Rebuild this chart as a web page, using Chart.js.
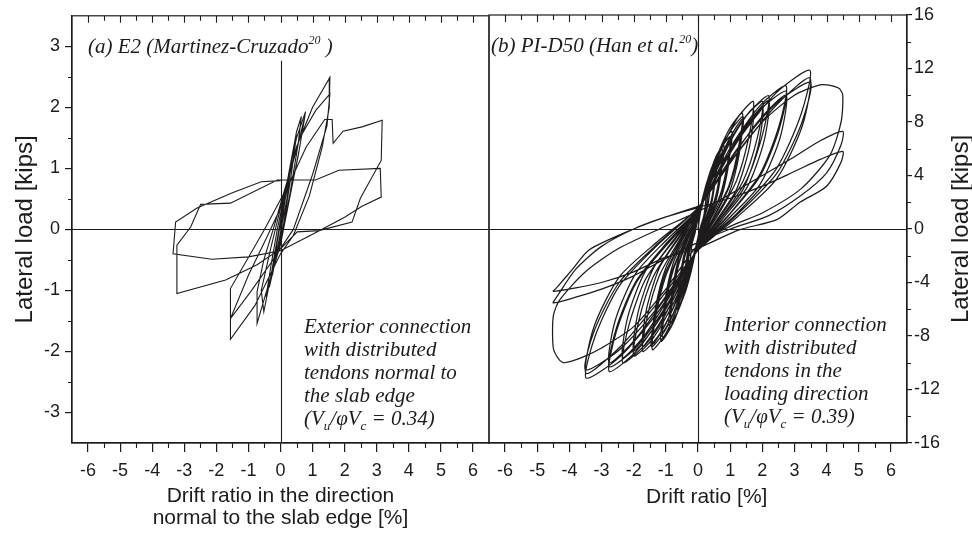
<!DOCTYPE html>
<html>
<head>
<meta charset="utf-8">
<script src="https://cdn.jsdelivr.net/npm/chart.js@4.4.1/dist/chart.umd.min.js"></script>
<style>
  html, body { margin: 0; padding: 0; background: #fff; }
  #wrap { position: relative; width: 972px; height: 533px; overflow: hidden; }
  #left { position: absolute; left: 0; top: 0; }
  #right { position: absolute; left: 480px; top: 0; }
</style>
</head>
<body>
<div id="wrap">
  <canvas id="left" width="500" height="533"></canvas>
  <canvas id="right" width="492" height="533"></canvas>
</div>
<script>
// tick values
const driftTicks = [-6, -5, -4, -3, -2, -1, 0, 1, 2, 3, 4, 5, 6];
const driftMinor = [-5.5, -4.5, -3.5, -2.5, -1.5, -0.5, 0.5, 1.5, 2.5, 3.5, 4.5, 5.5];
const kipsTicksE2 = [-3, -2, -1, 0, 1, 2, 3];
const kipsMinorE2 = [-2.5, -1.5, -0.5, 0.5, 1.5, 2.5];
const kipsTicksPI = [-16, -12, -8, -4, 0, 4, 8, 12, 16];
const kipsMinorPI = [-14, -10, -6, -2, 2, 6, 10, 14];

// (a) E2 - drift [%], load [kips]
const e2Loop = [
  [0,0],[0.15,0.5],[0.3,0.95],[0.2,0.5],[0,-0.05],[-0.15,-0.45],[-0.25,-0.75],[-0.15,-0.35],[0,0.1],
  [0.2,0.75],[0.4,1.3],[0.5,1.55],[0.35,0.95],[0.1,0.1],[-0.15,-0.5],[-0.35,-0.95],[-0.2,-0.45],[0,0.15],
  [0.25,0.9],[0.5,1.6],[0.65,1.85],[0.55,1.4],[0.3,0.6],[0,-0.2],[-0.25,-0.7],[-0.45,-1.1],[-0.3,-0.6],[-0.1,0.0],
  [0.2,0.75],[0.5,1.5],[0.78,1.93],[0.6,1.35],[0.3,0.55],[0,-0.25],[-0.4,-0.95],[-0.73,-1.54],[-0.73,-1.02],[-0.52,-0.5],[-0.2,0.05],[0.1,0.6],
  [0.5,1.3],[0.76,1.85],[0.55,1.2],[0.2,0.3],[-0.2,-0.5],[-0.52,-1.35],[-0.6,-1.0],[-0.3,-0.3],[0,0.35],
  [0.5,1.35],[1.0,2.0],[1.54,2.49],[1.52,2.0],[1.3,1.35],[0.9,0.55],[0.4,-0.1],[0,-0.4],[-0.8,-1.25],[-1.56,-1.8],[-1.56,-1.46],[-1.0,-0.75],[-0.4,-0.1],[0,0.35],
  [0.6,1.5],[1.1,1.95],[1.54,2.22],[1.45,1.7],[1.0,0.9],[0.4,0.0],[-0.3,-0.55],[-0.9,-1.0],[-1.56,-1.46],[-1.56,-0.97],
  [-0.5,0.0],[0.3,0.78],[0.8,1.35],[1.38,1.8],[1.61,1.8],[1.64,1.41],[1.95,1.61],[2.54,1.68],[3.17,1.79],[3.14,1.13],[2.49,0.51],[2.23,0.12],[1.2,-0.02],[0.52,-0.04],[0,-0.32],[-0.73,-0.58],[-1.71,-0.83],[-3.23,-1.05],[-3.23,-0.26],[-2.8,0.04],[-2.49,0.41],[-1.56,0.43],[-0.1,0.81],
  [1.09,0.81],[1.82,0.97],[3.11,1.0],[3.14,0.53],[2.54,0.38],[2.0,0.2],[1.0,-0.08],[0,-0.35],[-1.0,-0.45],[-2.14,-0.49],[-3.35,-0.4],[-3.27,0.12],[-2.6,0.35],[-1.5,0.6],[-0.6,0.78],[0,0.8]
];

// (b) PI-D50 - drift [%], load [kips], cycles in order
const pid50Loop = [
  [0,0],[0.09,1.43],[0.18,2.24],[0.25,2.6],[0.23,1.87],[0.18,0.99],[0.09,0.26],
  [0,-0.6],[-0.09,-1.54],[-0.18,-2.41],[-0.25,-2.8],[-0.23,-2.02],[-0.18,-1.06],[-0.09,-0.28],
  [0,0.8],[0.11,1.5],[0.21,2.46],[0.3,3.0],[0.28,2.04],[0.21,0.99],[0.11,0.24],
  [0,-0.8],[-0.11,-1.7],[-0.22,-2.79],[-0.32,-3.4],[-0.3,-2.31],[-0.22,-1.12],[-0.11,-0.27],
  [0,0.7],[0.14,2.15],[0.28,3.35],[0.4,3.9],[0.37,2.81],[0.28,1.48],[0.14,0.39],
  [0,-0.7],[-0.14,-2.37],[-0.28,-3.7],[-0.4,-4.3],[-0.37,-3.1],[-0.28,-1.63],[-0.14,-0.43],
  [0,0.8],[0.14,2.26],[0.28,3.53],[0.4,4.1],[0.37,2.95],[0.28,1.56],[0.14,0.41],
  [0,-0.8],[-0.16,-2.48],[-0.32,-3.87],[-0.45,-4.5],[-0.41,-3.24],[-0.32,-1.71],[-0.16,-0.45],
  [0,0.9],[0.19,2.75],[0.39,4.3],[0.55,5.0],[0.51,3.6],[0.39,1.9],[0.19,0.5],
  [0,-0.9],[-0.21,-3.14],[-0.42,-4.9],[-0.6,-5.7],[-0.55,-4.1],[-0.42,-2.17],[-0.21,-0.57],
  [0,1.0],[0.19,2.35],[0.39,3.85],[0.55,4.7],[0.51,3.2],[0.39,1.55],[0.19,0.38],
  [0,-1.0],[-0.21,-2.7],[-0.42,-4.43],[-0.6,-5.4],[-0.56,-3.67],[-0.42,-1.78],[-0.21,-0.43],
  [0,0.9],[0.21,2.92],[0.42,4.56],[0.6,5.3],[0.55,3.82],[0.42,2.01],[0.21,0.53],
  [0,-0.9],[-0.23,-3.3],[-0.46,-5.16],[-0.65,-6.0],[-0.6,-4.32],[-0.46,-2.28],[-0.23,-0.6],
  [0,1.0],[0.26,3.3],[0.53,5.16],[0.75,6.0],[0.69,4.32],[0.53,2.28],[0.26,0.6],
  [0,-1.0],[-0.3,-3.85],[-0.6,-6.02],[-0.85,-7.0],[-0.78,-5.04],[-0.6,-2.66],[-0.3,-0.7],
  [0,1.1],[0.26,2.85],[0.53,4.67],[0.75,5.7],[0.7,3.88],[0.53,1.88],[0.26,0.46],
  [0,-1.1],[-0.3,-3.3],[-0.6,-5.41],[-0.85,-6.6],[-0.79,-4.49],[-0.6,-2.18],[-0.3,-0.53],
  [0,1.0],[0.28,3.47],[0.56,5.42],[0.8,6.3],[0.74,4.54],[0.56,2.39],[0.28,0.63],
  [0,-1.0],[-0.32,-3.96],[-0.63,-6.19],[-0.9,-7.2],[-0.83,-5.18],[-0.63,-2.74],[-0.32,-0.72],
  [0,1.1],[0.35,3.8],[0.7,5.93],[1.0,6.9],[0.92,4.97],[0.7,2.62],[0.35,0.69],
  [0,-1.1],[-0.39,-4.46],[-0.77,-6.97],[-1.1,-8.1],[-1.01,-5.83],[-0.77,-3.08],[-0.39,-0.81],
  [0,1.2],[0.35,3.3],[0.7,5.41],[1.0,6.6],[0.93,4.49],[0.7,2.18],[0.35,0.53],
  [0,-1.2],[-0.39,-3.85],[-0.77,-6.31],[-1.1,-7.7],[-1.02,-5.24],[-0.77,-2.54],[-0.39,-0.62],
  [0,1.1],[0.37,4.02],[0.74,6.28],[1.05,7.3],[0.97,5.26],[0.74,2.77],[0.37,0.73],
  [0,-1.1],[-0.4,-4.62],[-0.81,-7.22],[-1.15,-8.4],[-1.06,-6.05],[-0.81,-3.19],[-0.4,-0.84],
  [0,1.2],[0.48,4.77],[0.97,7.46],[1.38,8.67],[1.27,6.24],[0.97,3.29],[0.48,0.87],
  [0,-1.2],[-0.5,-4.96],[-0.99,-7.76],[-1.42,-9.02],[-1.31,-6.49],[-0.99,-3.43],[-0.5,-0.9],
  [0,1.3],[0.48,4.1],[0.97,6.72],[1.38,8.2],[1.28,5.58],[0.97,2.71],[0.48,0.66],
  [0,-1.3],[-0.5,-4.3],[-0.99,-7.05],[-1.42,-8.6],[-1.32,-5.85],[-0.99,-2.84],[-0.5,-0.69],
  [0,1.2],[0.49,4.62],[0.98,7.22],[1.4,8.4],[1.29,6.05],[0.98,3.19],[0.49,0.84],
  [0,-1.2],[-0.51,-4.84],[-1.02,-7.57],[-1.45,-8.8],[-1.33,-6.34],[-1.02,-3.34],[-0.51,-0.88],
  [0,1.3],[0.6,5.25],[1.2,8.2],[1.72,9.54],[1.58,6.87],[1.2,3.63],[0.6,0.95],
  [0,-1.3],[-0.6,-5.03],[-1.2,-7.87],[-1.72,-9.15],[-1.58,-6.59],[-1.2,-3.48],[-0.6,-0.92],
  [0,1.4],[0.6,4.5],[1.2,7.38],[1.72,9.0],[1.6,6.12],[1.2,2.97],[0.6,0.72],
  [0,-1.4],[-0.6,-4.4],[-1.2,-7.22],[-1.72,-8.8],[-1.6,-5.98],[-1.2,-2.9],[-0.6,-0.7],
  [0,1.3],[0.7,5.25],[1.41,8.2],[2.01,9.54],[1.85,6.87],[1.41,3.63],[0.7,0.95],
  [0,-1.3],[-0.7,-5.23],[-1.4,-8.17],[-2.0,-9.5],[-1.84,-6.84],[-1.4,-3.61],[-0.7,-0.95],
  [0,1.4],[0.7,4.55],[1.41,7.46],[2.01,9.1],[1.87,6.19],[1.41,3.0],[0.7,0.73],
  [0,-1.4],[-0.7,-4.55],[-1.4,-7.46],[-2.0,-9.1],[-1.86,-6.19],[-1.4,-3.0],[-0.7,-0.73],
  [0,1.4],[0.77,5.48],[1.54,8.57],[2.2,9.97],[2.02,7.18],[1.54,3.79],[0.77,1.0],
  [0,-1.4],[-0.82,-5.5],[-1.64,-8.6],[-2.34,-10.0],[-2.15,-7.2],[-1.64,-3.8],[-0.82,-1.0],
  [0,1.5],[0.77,4.8],[1.54,7.87],[2.2,9.6],[2.05,6.53],[1.54,3.17],[0.77,0.77],
  [0,-1.5],[-0.82,-4.8],[-1.64,-7.87],[-2.34,-9.6],[-2.18,-6.53],[-1.64,-3.17],[-0.82,-0.77],
  [0,1.4],[0.96,5.89],[1.92,9.2],[2.74,10.7],[2.52,7.7],[1.92,4.07],[0.96,1.07],
  [0,-1.4],[-0.97,-5.86],[-1.93,-9.16],[-2.76,-10.65],[-2.54,-7.67],[-1.93,-4.05],[-0.97,-1.07],
  [0,1.5],[0.96,5.0],[1.92,8.2],[2.74,10.0],[2.55,6.8],[1.92,3.3],[0.96,0.8],
  [0,-1.5],[-0.97,-5.0],[-1.93,-8.2],[-2.76,-10.0],[-2.57,-6.8],[-1.93,-3.3],[-0.97,-0.8],
  [0,1.5],[0.96,5.67],[1.92,8.86],[2.74,10.3],[2.52,7.42],[1.92,3.91],[0.96,1.03],
  [0,-1.5],[-0.97,-5.67],[-1.93,-8.86],[-2.76,-10.3],[-2.54,-7.42],[-1.93,-3.91],[-0.97,-1.03],
  [0,1.5],[1.22,6.52],[2.44,10.2],[3.48,11.86],[3.2,8.54],[2.44,4.51],[1.22,1.19],
  [0,-1.5],[-1.22,-6.13],[-2.44,-9.58],[-3.48,-11.14],[-3.2,-8.02],[-2.44,-4.23],[-1.22,-1.11],
  [0,1.6],[1.22,5.65],[2.44,9.27],[3.48,11.3],[3.24,7.68],[2.44,3.73],[1.22,0.9],
  [0,-1.6],[-1.22,-5.4],[-2.44,-8.86],[-3.48,-10.8],[-3.24,-7.34],[-2.44,-3.56],[-1.22,-0.86],
  [0,1.6],[1.23,6.03],[2.45,9.43],[3.5,10.96],[3.22,7.89],[2.45,4.16],[1.23,1.1],
  [0,-1.6],[-1.23,-5.79],[-2.45,-9.05],[-3.5,-10.52],[-3.22,-7.57],[-2.45,-4.0],[-1.23,-1.05],
  [0,1.6],[1.0,5.0],[2.0,8.0],[3.0,10.0],[3.85,10.79],[4.37,10.54],[4.5,10.04],[4.45,8.0],[4.1,5.5],[3.2,3.0],[2.0,1.2],[1.0,0.2],
  [0,-1.2],[-1.0,-4.5],[-2.0,-7.3],[-3.0,-8.9],[-3.6,-9.6],[-4.16,-10.0],[-4.32,-9.77],[-4.5,-8.9],[-4.5,-6.5],[-4.3,-5.3],[-3.5,-3.2],[-2.5,-1.5],[-1.2,0.0],
  [0,1.3],[1.0,2.6],[2.0,4.0],[3.0,5.4],[3.8,6.6],[4.5,7.3],[4.45,6.3],[4.0,4.2],[3.2,2.5],[2.2,1.0],[1.0,0.0],
  [0,-1.0],[-1.0,-2.2],[-2.0,-3.5],[-3.0,-4.5],[-3.8,-5.1],[-4.5,-5.53],[-4.4,-5.1],[-3.8,-3.0],[-3.0,-1.3],[-2.0,0.0],[-1.0,0.9],
  [0,1.6],[1.0,2.3],[2.0,3.2],[3.0,4.3],[3.8,5.2],[4.5,5.8],[4.45,5.0],[4.0,3.2],[3.17,2.0],[2.45,0.7],[1.3,-0.05],[0,-1.42],
  [-1.0,-2.1],[-2.0,-3.2],[-3.0,-4.0],[-3.8,-4.4],[-4.5,-4.66],[-4.4,-4.4],[-3.9,-3.0],[-3.38,-1.55],[-2.0,0.0],[-1.0,0.9],[0,1.69]
];

const ink = "#1e1b1c";
const sans = "'Liberation Sans', Arial, sans-serif";
const serif = "'Liberation Serif', 'Times New Roman', serif";

function toPoints(list) {
  return list.map((p) => ({ x: p[0], y: p[1] }));
}

// italic text with sub/superscripts, written piece by piece
function drawRuns(ctx, x, y, parts) {
  parts.forEach(([text, size, dy]) => {
    ctx.font = "italic " + size + "px " + serif;
    ctx.fillText(text, x, y + dy);
    x += ctx.measureText(text).width;
  });
}

// snap a 1px line onto the pixel grid so it stays crisp
const snap = (v) => Math.round(v) + 0.5;

const framePlugin = {
  id: "frame",
  beforeDatasetsDraw(chart, args, o) {
    const { ctx, chartArea: a, scales } = chart;
    const x0 = snap(scales.x.getPixelForValue(0));
    const y0 = snap(scales.y.getPixelForValue(0));
    ctx.save();
    ctx.strokeStyle = ink;
    ctx.lineWidth = 1.1;
    ctx.beginPath();
    ctx.moveTo(a.left, y0);
    ctx.lineTo(a.right, y0);
    ctx.moveTo(x0, a.top + o.zeroGap);
    ctx.lineTo(x0, a.bottom);
    ctx.stroke();
    ctx.restore();
  },
  afterDraw(chart, args, o) {
    const { ctx, chartArea: a, scales } = chart;
    ctx.save();
    ctx.strokeStyle = ink;
    ctx.lineWidth = 1.2;
    ctx.strokeRect(a.left, a.top, a.right - a.left, a.bottom - a.top);
    ctx.lineWidth = 1.1;
    ctx.beginPath();
    driftTicks.forEach((v) => {
      const px = snap(scales.x.getPixelForValue(v));
      ctx.moveTo(px, a.top);
      ctx.lineTo(px, a.top + 7);
    });
    driftMinor.forEach((v) => {
      const px = snap(scales.x.getPixelForValue(v));
      ctx.moveTo(px, a.top);
      ctx.lineTo(px, a.top + 5);
      ctx.moveTo(px, a.bottom);
      ctx.lineTo(px, a.bottom + 5);
    });
    o.yMinor.forEach((v) => {
      const py = snap(scales.y.getPixelForValue(v));
      const edge = o.side === "left" ? a.left : a.right;
      ctx.moveTo(edge, py);
      ctx.lineTo(o.side === "left" ? edge - 4 : edge + 4, py);
    });
    ctx.stroke();

    ctx.fillStyle = ink;
    ctx.textAlign = "left";
    ctx.textBaseline = "alphabetic";
    drawRuns(ctx, a.left + o.titleDx, a.top + 37, o.title);
    o.notes.forEach((line, i) => {
      drawRuns(ctx, a.left + o.noteDx, a.bottom - o.noteUp + i * 23, line);
    });

    // right hand axis title reads bottom to top, like the left one
    if (o.rightTitle) {
      ctx.translate(o.rightTitleX, (a.top + a.bottom) / 2);
      ctx.rotate(-Math.PI / 2);
      ctx.textAlign = "center";
      ctx.textBaseline = "middle";
      ctx.font = "24px " + sans;
      ctx.fillText(o.rightTitle, 0, 0);
    }
    ctx.restore();
  },
};

function xScale(title, padBottom) {
  return {
    type: "linear",
    min: -6.5,
    max: 6.5,
    afterBuildTicks: (s) => { s.ticks = driftTicks.map((v) => ({ value: v })); },
    afterFit: (s) => { s.height = 90; },
    grid: { drawOnChartArea: false, tickLength: 9, color: ink, lineWidth: 1.2 },
    border: { color: ink, width: 1.2 },
    ticks: { color: ink, font: { family: sans, size: 18 }, padding: 8, maxRotation: 0, autoSkip: false },
    title: { display: true, text: title, color: ink, font: { family: sans, size: 21, lineHeight: 1.05 }, padding: { top: 0, bottom: padBottom } },
  };
}

new Chart(document.getElementById("left"), {
  type: "scatter",
  data: {
    datasets: [{
      data: toPoints(e2Loop),
      showLine: true,
      borderColor: ink,
      borderWidth: 1.1,
      pointRadius: 0,
      tension: 0,
      fill: false,
    }],
  },
  options: {
    responsive: false,
    animation: false,
    layout: { padding: { left: 0, right: 11, top: 15, bottom: 0 } },
    plugins: {
      legend: { display: false },
      tooltip: { enabled: false },
      frame: {
        side: "left",
        zeroGap: 45,
        yMinor: kipsMinorE2,
        titleDx: 16,
        title: [["(a) E2 (Martinez-Cruzado", 21, 0], ["20", 12, -9], [" )", 21, 0]],
        noteDx: 232,
        noteUp: 110,
        notes: [
          [["Exterior connection", 21, 0]],
          [["with distributed", 21, 0]],
          [["tendons normal to", 21, 0]],
          [["the slab edge", 21, 0]],
          [["(V", 21, 0], ["u", 13, 5], ["/\u03c6V", 21, 0], ["c", 13, 5], [" = 0.34)", 21, 0]],
        ],
      },
    },
    scales: {
      x: xScale(["Drift ratio in the direction", "normal to the slab edge [%]"], 4),
      y: {
        type: "linear",
        position: "left",
        min: -3.5,
        max: 3.5,
        afterBuildTicks: (s) => { s.ticks = kipsTicksE2.map((v) => ({ value: v })); },
        afterFit: (s) => { s.width = 72; },
        grid: { drawOnChartArea: false, tickLength: 7, color: ink, lineWidth: 1.2 },
        border: { color: ink, width: 1.2 },
        ticks: { color: ink, font: { family: sans, size: 18 }, padding: 5 },
        title: { display: true, text: "Lateral load [kips]", color: ink, font: { family: sans, size: 24 }, padding: { top: 11, bottom: 0 } },
      },
    },
  },
  plugins: [framePlugin],
});

new Chart(document.getElementById("right"), {
  type: "scatter",
  data: {
    datasets: [{
      data: toPoints(pid50Loop),
      showLine: true,
      borderColor: ink,
      borderWidth: 1.25,
      pointRadius: 0,
      tension: 0.25,
      fill: false,
    }],
  },
  options: {
    responsive: false,
    animation: false,
    layout: { padding: { left: 9, right: 0, top: 15, bottom: 0 } },
    plugins: {
      legend: { display: false },
      tooltip: { enabled: false },
      frame: {
        side: "right",
        zeroGap: 0,
        yMinor: kipsMinorPI,
        titleDx: 2,
        title: [["(b) PI-D50 (Han et al.", 21, 0], ["20", 12, -9], [")", 21, 0]],
        noteDx: 235,
        noteUp: 112,
        notes: [
          [["Interior connection", 21, 0]],
          [["with distributed", 21, 0]],
          [["tendons in the", 21, 0]],
          [["loading direction", 21, 0]],
          [["(V", 21, 0], ["u", 13, 5], ["/\u03c6V", 21, 0], ["c", 13, 5], [" = 0.39)", 21, 0]],
        ],
        rightTitle: "Lateral load [kips]",
        rightTitleX: 481,
      },
    },
    scales: {
      x: xScale("   Drift ratio [%]", 25),
      y: {
        type: "linear",
        position: "right",
        min: -16,
        max: 16,
        afterBuildTicks: (s) => { s.ticks = kipsTicksPI.map((v) => ({ value: v })); },
        afterFit: (s) => { s.width = 65; },
        grid: { drawOnChartArea: false, tickLength: 5, color: ink, lineWidth: 1.2 },
        border: { color: ink, width: 1.2 },
        ticks: { color: ink, font: { family: sans, size: 18 }, padding: 2 },
      },
    },
  },
  plugins: [framePlugin],
});
</script>
</body>
</html>
